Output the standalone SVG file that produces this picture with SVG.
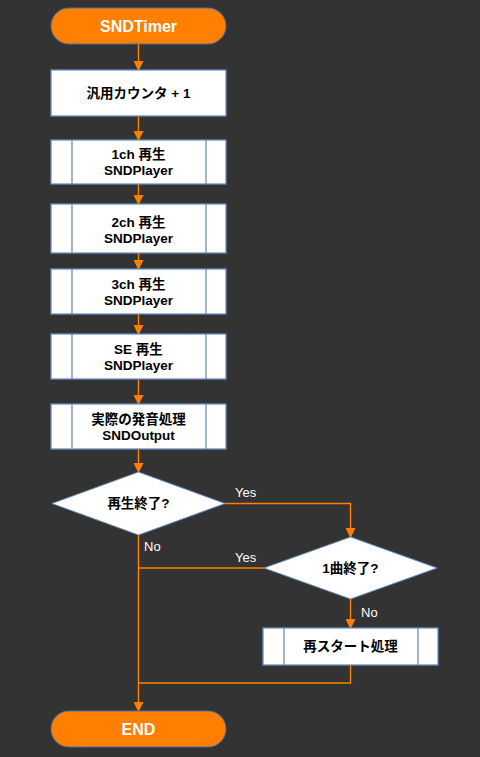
<svg xmlns="http://www.w3.org/2000/svg" width="480" height="757" viewBox="0 0 480 757">
<defs>
<marker id="ah" markerWidth="10" markerHeight="10" refX="9" refY="5" orient="auto" markerUnits="userSpaceOnUse">
<path d="M0,0 L10,5 L0,10 Z" fill="#FF8000"/>
</marker>
<style>
.term{fill:#FF8000;stroke:#4F6FA0;stroke-width:1}
.box{fill:#FFFFFF;stroke:#6C8EBF;stroke-width:1.3}
.side{stroke:#6C8EBF;stroke-width:1.3}
.dia{fill:#FFFFFF;stroke:#6C8EBF;stroke-width:1}
.t{font-family:"Liberation Sans","Noto Sans CJK JP",sans-serif;font-weight:bold;font-size:13.5px;fill:#000000;text-anchor:middle}
.tw{font-family:"Liberation Sans","Noto Sans CJK JP",sans-serif;font-weight:bold;font-size:16px;fill:#FFFFFF;text-anchor:middle}
.lbl{font-family:"Liberation Sans",sans-serif;font-size:13px;fill:#FFFFFF}
.c{fill:none;stroke:#FF8000;stroke-width:1.4}
.ca{fill:none;stroke:#FF8000;stroke-width:1.4;marker-end:url(#ah)}
</style>
</defs>
<rect x="0" y="0" width="480" height="757" fill="#333333"/>
<g id="connectors">
<path class="ca" d="M138.5,44 V70"/>
<path class="ca" d="M138.5,116 V140"/>
<path class="ca" d="M138.5,184 V204"/>
<path class="ca" d="M138.5,253 V269"/>
<path class="ca" d="M138.5,314 V334"/>
<path class="ca" d="M138.5,379 V404"/>
<path class="ca" d="M138.5,449 V472"/>
<path class="ca" d="M225,503.5 H350.5 V537"/>
<path class="ca" d="M138.5,535 V711"/>
<path class="c" d="M264,568 H138.5"/>
<path class="ca" d="M350.5,599 V628"/>
<path class="c" d="M350.5,665 V683 H138.5"/>
</g>
<g id="labels">
<text class="lbl" x="235" y="497">Yes</text>
<text class="lbl" x="144" y="551">No</text>
<text class="lbl" x="235" y="562">Yes</text>
<text class="lbl" x="361" y="617">No</text>
</g>
<g id="start">
<rect class="term" x="51" y="8" width="175" height="36" rx="18" ry="18"/>
<text class="tw" x="138.5" y="32">SNDTimer</text>
</g>
<g id="counter">
<rect class="box" x="51" y="70" width="175" height="46"/>
<text class="t" x="138.5" y="98">汎用カウンタ + 1</text>
</g>
<g id="ch1">
<rect class="box" x="51" y="140" width="175" height="44"/>
<line class="side" x1="72" y1="140" x2="72" y2="184"/>
<line class="side" x1="206" y1="140" x2="206" y2="184"/>
<text class="t" x="138.5" y="159">1ch 再生</text>
<text class="t" x="138.5" y="175">SNDPlayer</text>
</g>
<g id="ch2">
<rect class="box" x="51" y="204" width="175" height="49"/>
<line class="side" x1="72" y1="204" x2="72" y2="253"/>
<line class="side" x1="206" y1="204" x2="206" y2="253"/>
<text class="t" x="138.5" y="227">2ch 再生</text>
<text class="t" x="138.5" y="243">SNDPlayer</text>
</g>
<g id="ch3">
<rect class="box" x="51" y="269" width="175" height="45"/>
<line class="side" x1="72" y1="269" x2="72" y2="314"/>
<line class="side" x1="206" y1="269" x2="206" y2="314"/>
<text class="t" x="138.5" y="289">3ch 再生</text>
<text class="t" x="138.5" y="305">SNDPlayer</text>
</g>
<g id="se">
<rect class="box" x="51" y="334" width="175" height="45"/>
<line class="side" x1="72" y1="334" x2="72" y2="379"/>
<line class="side" x1="206" y1="334" x2="206" y2="379"/>
<text class="t" x="138.5" y="354">SE 再生</text>
<text class="t" x="138.5" y="370">SNDPlayer</text>
</g>
<g id="output">
<rect class="box" x="51" y="404" width="175" height="45"/>
<line class="side" x1="72" y1="404" x2="72" y2="449"/>
<line class="side" x1="206" y1="404" x2="206" y2="449"/>
<text class="t" x="138.5" y="424">実際の発音処理</text>
<text class="t" x="138.5" y="440">SNDOutput</text>
</g>
<g id="dec1">
<polygon class="dia" points="138.5,472 225,503.5 138.5,535 52,503.5"/>
<text class="t" x="138.5" y="508">再生終了?</text>
</g>
<g id="dec2">
<polygon class="dia" points="350.5,537 437,568 350.5,599 264,568"/>
<text class="t" x="350.5" y="573">1曲終了?</text>
</g>
<g id="restart">
<rect class="box" x="263" y="628" width="175" height="37"/>
<line class="side" x1="284" y1="628" x2="284" y2="665"/>
<line class="side" x1="418" y1="628" x2="418" y2="665"/>
<text class="t" x="350.5" y="651">再スタート処理</text>
</g>
<g id="end">
<rect class="term" x="51" y="711" width="175" height="36" rx="18" ry="18"/>
<text class="tw" x="138.5" y="735">END</text>
</g>
</svg>
